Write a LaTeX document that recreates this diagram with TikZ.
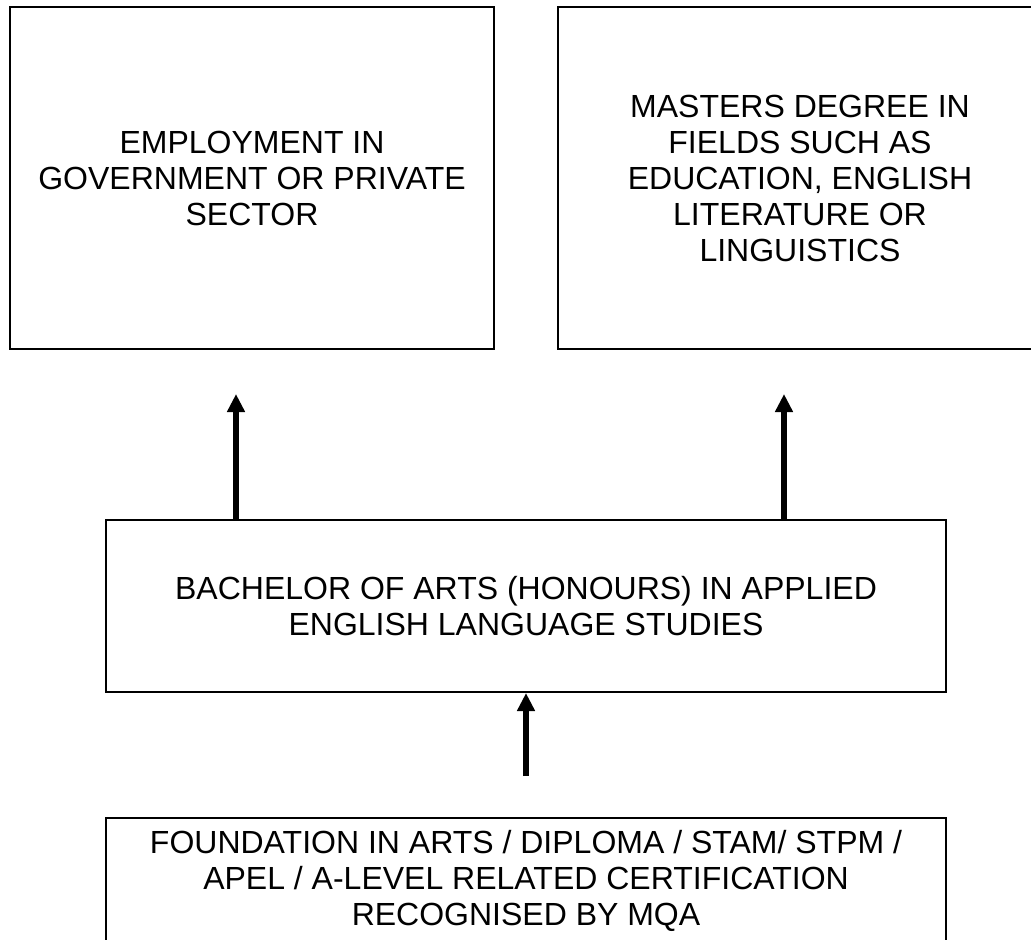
\documentclass[tikz,border=0pt]{standalone}
\usepackage{fontspec}
\setmainfont{Liberation Sans}
\usetikzlibrary{arrows.meta,calc}
\begin{document}
\begin{tikzpicture}[x=0.75pt,y=-0.75pt,
  box/.style={draw=black, line width=1.5pt, align=center, inner sep=0pt,
    font=\fontsize{24pt}{27pt}\selectfont},
  arr/.style={line width=4.5pt, -{Triangle[width=12.75pt,length=13.5pt]}}]
\useasboundingbox (0,0) rectangle (1031,939);
\clip (0,0) rectangle (1031,939);
\node[box, minimum width=363pt, minimum height=256.5pt] (b1) at (252,178)
  {EMPLOYMENT IN\\GOVERNMENT OR PRIVATE\\SECTOR};
\node[box, minimum width=363pt, minimum height=256.5pt] (b2) at (800,178)
  {MASTERS DEGREE IN\\FIELDS SUCH AS\\EDUCATION, ENGLISH\\LITERATURE OR\\LINGUISTICS};
\node[box, minimum width=630pt, minimum height=129pt] (b3) at (526,606)
  {BACHELOR OF ARTS (HONOURS) IN APPLIED\\ENGLISH LANGUAGE STUDIES};
\node[box, minimum width=630pt, minimum height=94.5pt] (b4) at (526,881)
  {FOUNDATION IN ARTS / DIPLOMA / STAM/ STPM /\\APEL / A-LEVEL RELATED CERTIFICATION\\RECOGNISED BY MQA};
\coordinate (t1) at ($(b1.south)+(-16,44)$);
\coordinate (t2) at ($(b2.south)+(-16,44)$);
\coordinate (s3) at ($(b4.north)+(0,-41)$);
\draw[arr] (b3.north -| t1) -- (t1);
\draw[arr] (b3.north -| t2) -- (t2);
\draw[arr] (s3) -- (b3.south);
\end{tikzpicture}
\end{document}
